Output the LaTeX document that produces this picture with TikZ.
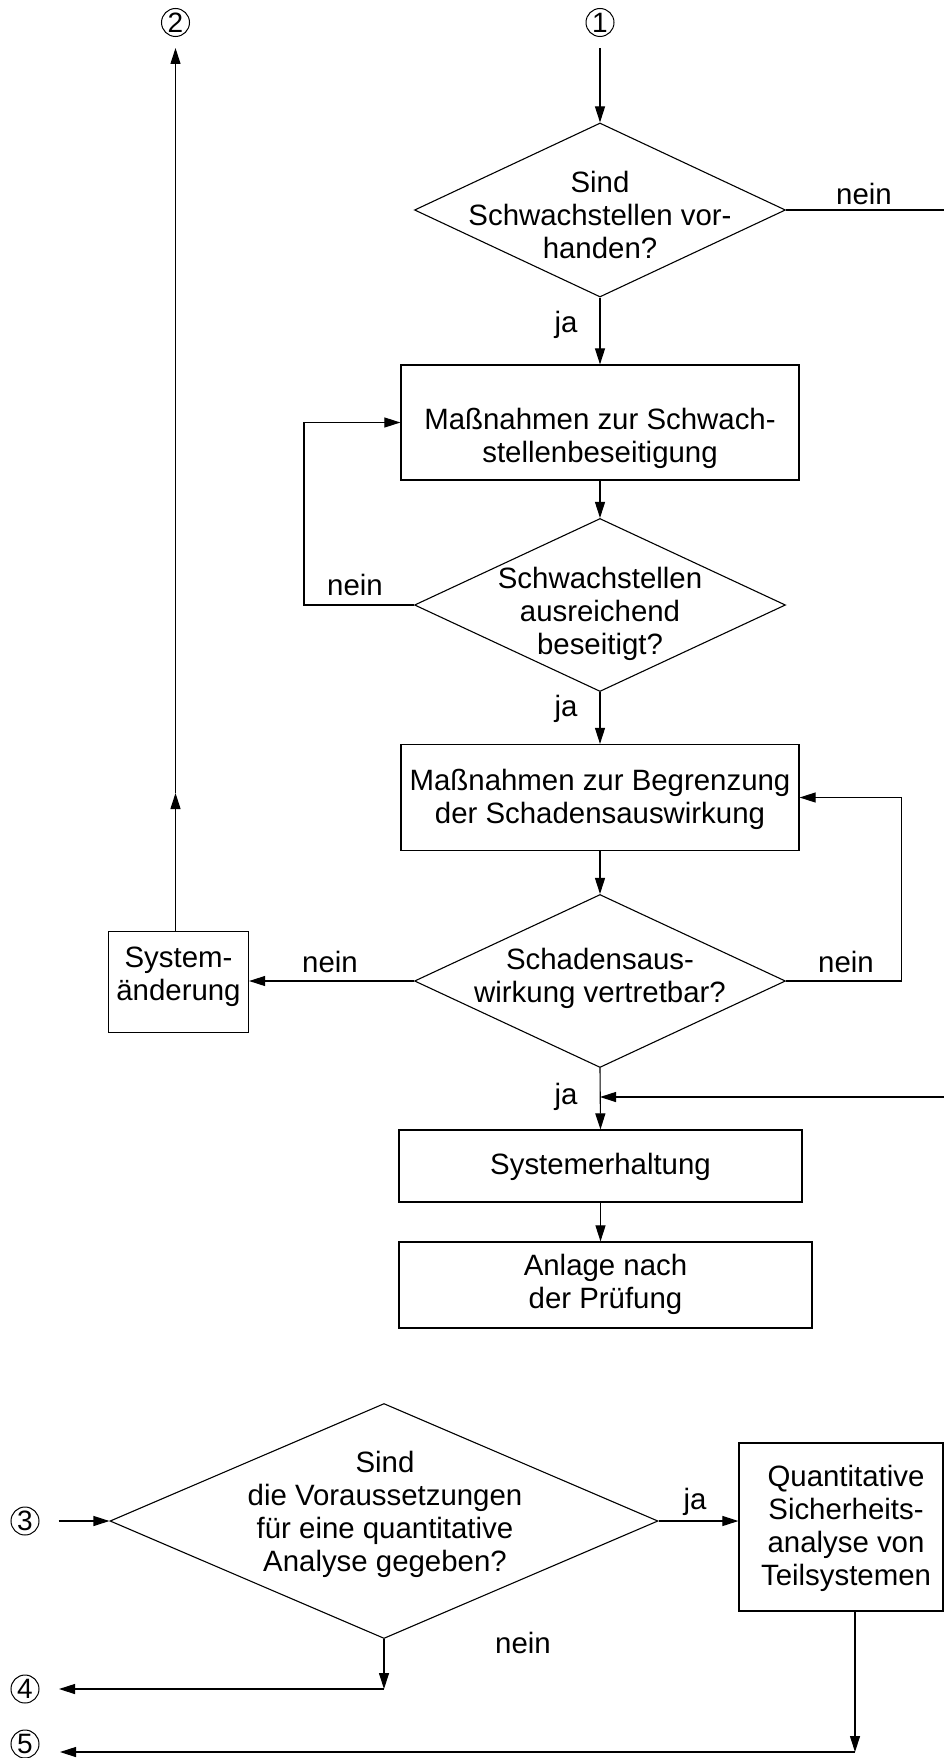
\documentclass[tikz,border=0pt]{standalone}
\usepackage{fontspec}
\setmainfont{Liberation Sans}
\usetikzlibrary{arrows.meta,shapes.geometric}
\begin{document}
\begin{tikzpicture}[x=1pt,y=-1pt,
  line width=1.1pt,
  every node/.style={font=\fontsize{29.4}{33}\selectfont, inner sep=0pt},
  box/.style={draw, line width=1.2pt, rectangle},
  dia/.style={draw, diamond, line width=1.1pt},
  txt/.style={align=center},
  num/.style={draw, circle, line width=1pt, minimum size=28pt, font=\fontsize{28}{28}\selectfont},
  arr/.style={-{Triangle[length=16pt,width=10pt]}},
]
\useasboundingbox (0,0) rectangle (944,1758);

% connector numbers
\node[num] (c1) at (600,22.5) {1};
\node[num] (c2) at (175.5,22.5) {2};
\node[num] (c3) at (25,1521) {3};
\node[num] (c4) at (25,1689) {4};
\node[num] (c5) at (25,1744) {5};

% shapes
\node[dia, minimum width=371pt, minimum height=174pt] (d1) at (600,210) {};
\node[box, minimum width=398pt, minimum height=115pt] (b1) at (600,422.5) {};
\node[dia, minimum width=371pt, minimum height=173pt] (d2) at (600,605) {};
\node[box, minimum width=398pt, minimum height=106pt] (b2) at (600,797.5) {};
\node[dia, minimum width=371pt, minimum height=173pt] (d3) at (600,981) {};
\node[box, minimum width=140pt, minimum height=101pt] (sys) at (178.5,982) {};
\node[box, minimum width=403pt, minimum height=72pt] (b3) at (600.5,1166) {};
\node[box, minimum width=413pt, minimum height=86pt] (b4) at (605.5,1285) {};
\node[dia, minimum width=548pt, minimum height=235pt] (d4) at (384,1521) {};
\node[box, minimum width=204pt, minimum height=168pt] (b5) at (841,1527) {};

% texts
\node[txt] (t1) at (600,215) {Sind\\Schwachstellen vor-\\handen?};
\node[txt] (tb1) at (600,438) {Maßnahmen zur Schwach-\\stellenbeseitigung};
\node[txt] (t2) at (600,614) {Schwachstellen\\ausreichend\\beseitigt?};
\node[txt] (tb2) at (600,799) {Maßnahmen zur Begrenzung\\der Schadensauswirkung};
\node[txt] (t3) at (600,978) {Schadensaus-\\wirkung vertretbar?};
\node[txt] (tsys) at (178.5,977) {System-\\änderung};
\node[txt] (tb3) at (600.5,1167) {Systemerhaltung};
\node[txt] (tb4) at (605.5,1284) {Anlage nach\\der Prüfung};
\node[txt] (t4) at (385,1514) {Sind\\die Voraussetzungen\\für eine quantitative\\Analyse gegeben?};
\node[txt] (tb5) at (846,1528) {Quantitative\\Sicherheits-\\analyse von\\Teilsystemen};

% labels
\node (n1) at (864,194) {nein};
\node (j1) at (566,325) {ja};
\node (n2) at (355,585) {nein};
\node (j2) at (566,709) {ja};
\node (n3l) at (330,962) {nein};
\node (n3r) at (846,962) {nein};
\node (j3) at (566,1097) {ja};
\node (j4) at (695,1502) {ja};
\node (n4) at (523,1643) {nein};

% free ends and bends
\coordinate (e1) at (944,210);
\coordinate (e2) at (944,1097);
\coordinate (m2) at (175.5,793);
\coordinate (k4) at (384,1689);
\coordinate (e4) at (59,1689);
\coordinate (k5) at (855,1752);
\coordinate (e5) at (60,1752);

% connectors
\draw[arr] ([yshift=-11pt]c1.south) -- (d1.north);
\draw (d1.east) -- (e1);
\draw[arr] (d1.south) -- (b1.north);
\draw[arr] (b1.south) -- (d2.north);
\draw[arr] (d2.west) -- ++(-110,0) |- (b1.west);
\draw[arr] (d2.south) -- (b2.north);
\draw[arr] (b2.south) -- (d3.north);
\draw[arr] (d3.east) -- ++(115,0) |- (b2.east);
\draw[arr] (d3.west) -- (d3.west -| sys.east);
\draw[arr] (sys.north -| c2) -- (m2);
\draw[arr] (m2) -- ([yshift=-11pt]c2.south);
\draw[arr] (d3.south) -- (b3.north);
\draw[arr] (e2) -- (d3.south |- e2);
\draw[arr] (b3.south) -- (b3.south |- b4.north);
\draw[arr] ([xshift=19pt]c3.east) -- (d4.west);
\draw[arr] (d4.east) -- (d4.east -| b5.west);
\draw[arr] (d4.south) -- (k4);
\draw[arr] (k4) -- (e4);
\draw[arr] (b5.south -| k5) -- (k5);
\draw[arr] (k5) -- (e5);
\end{tikzpicture}
\end{document}
